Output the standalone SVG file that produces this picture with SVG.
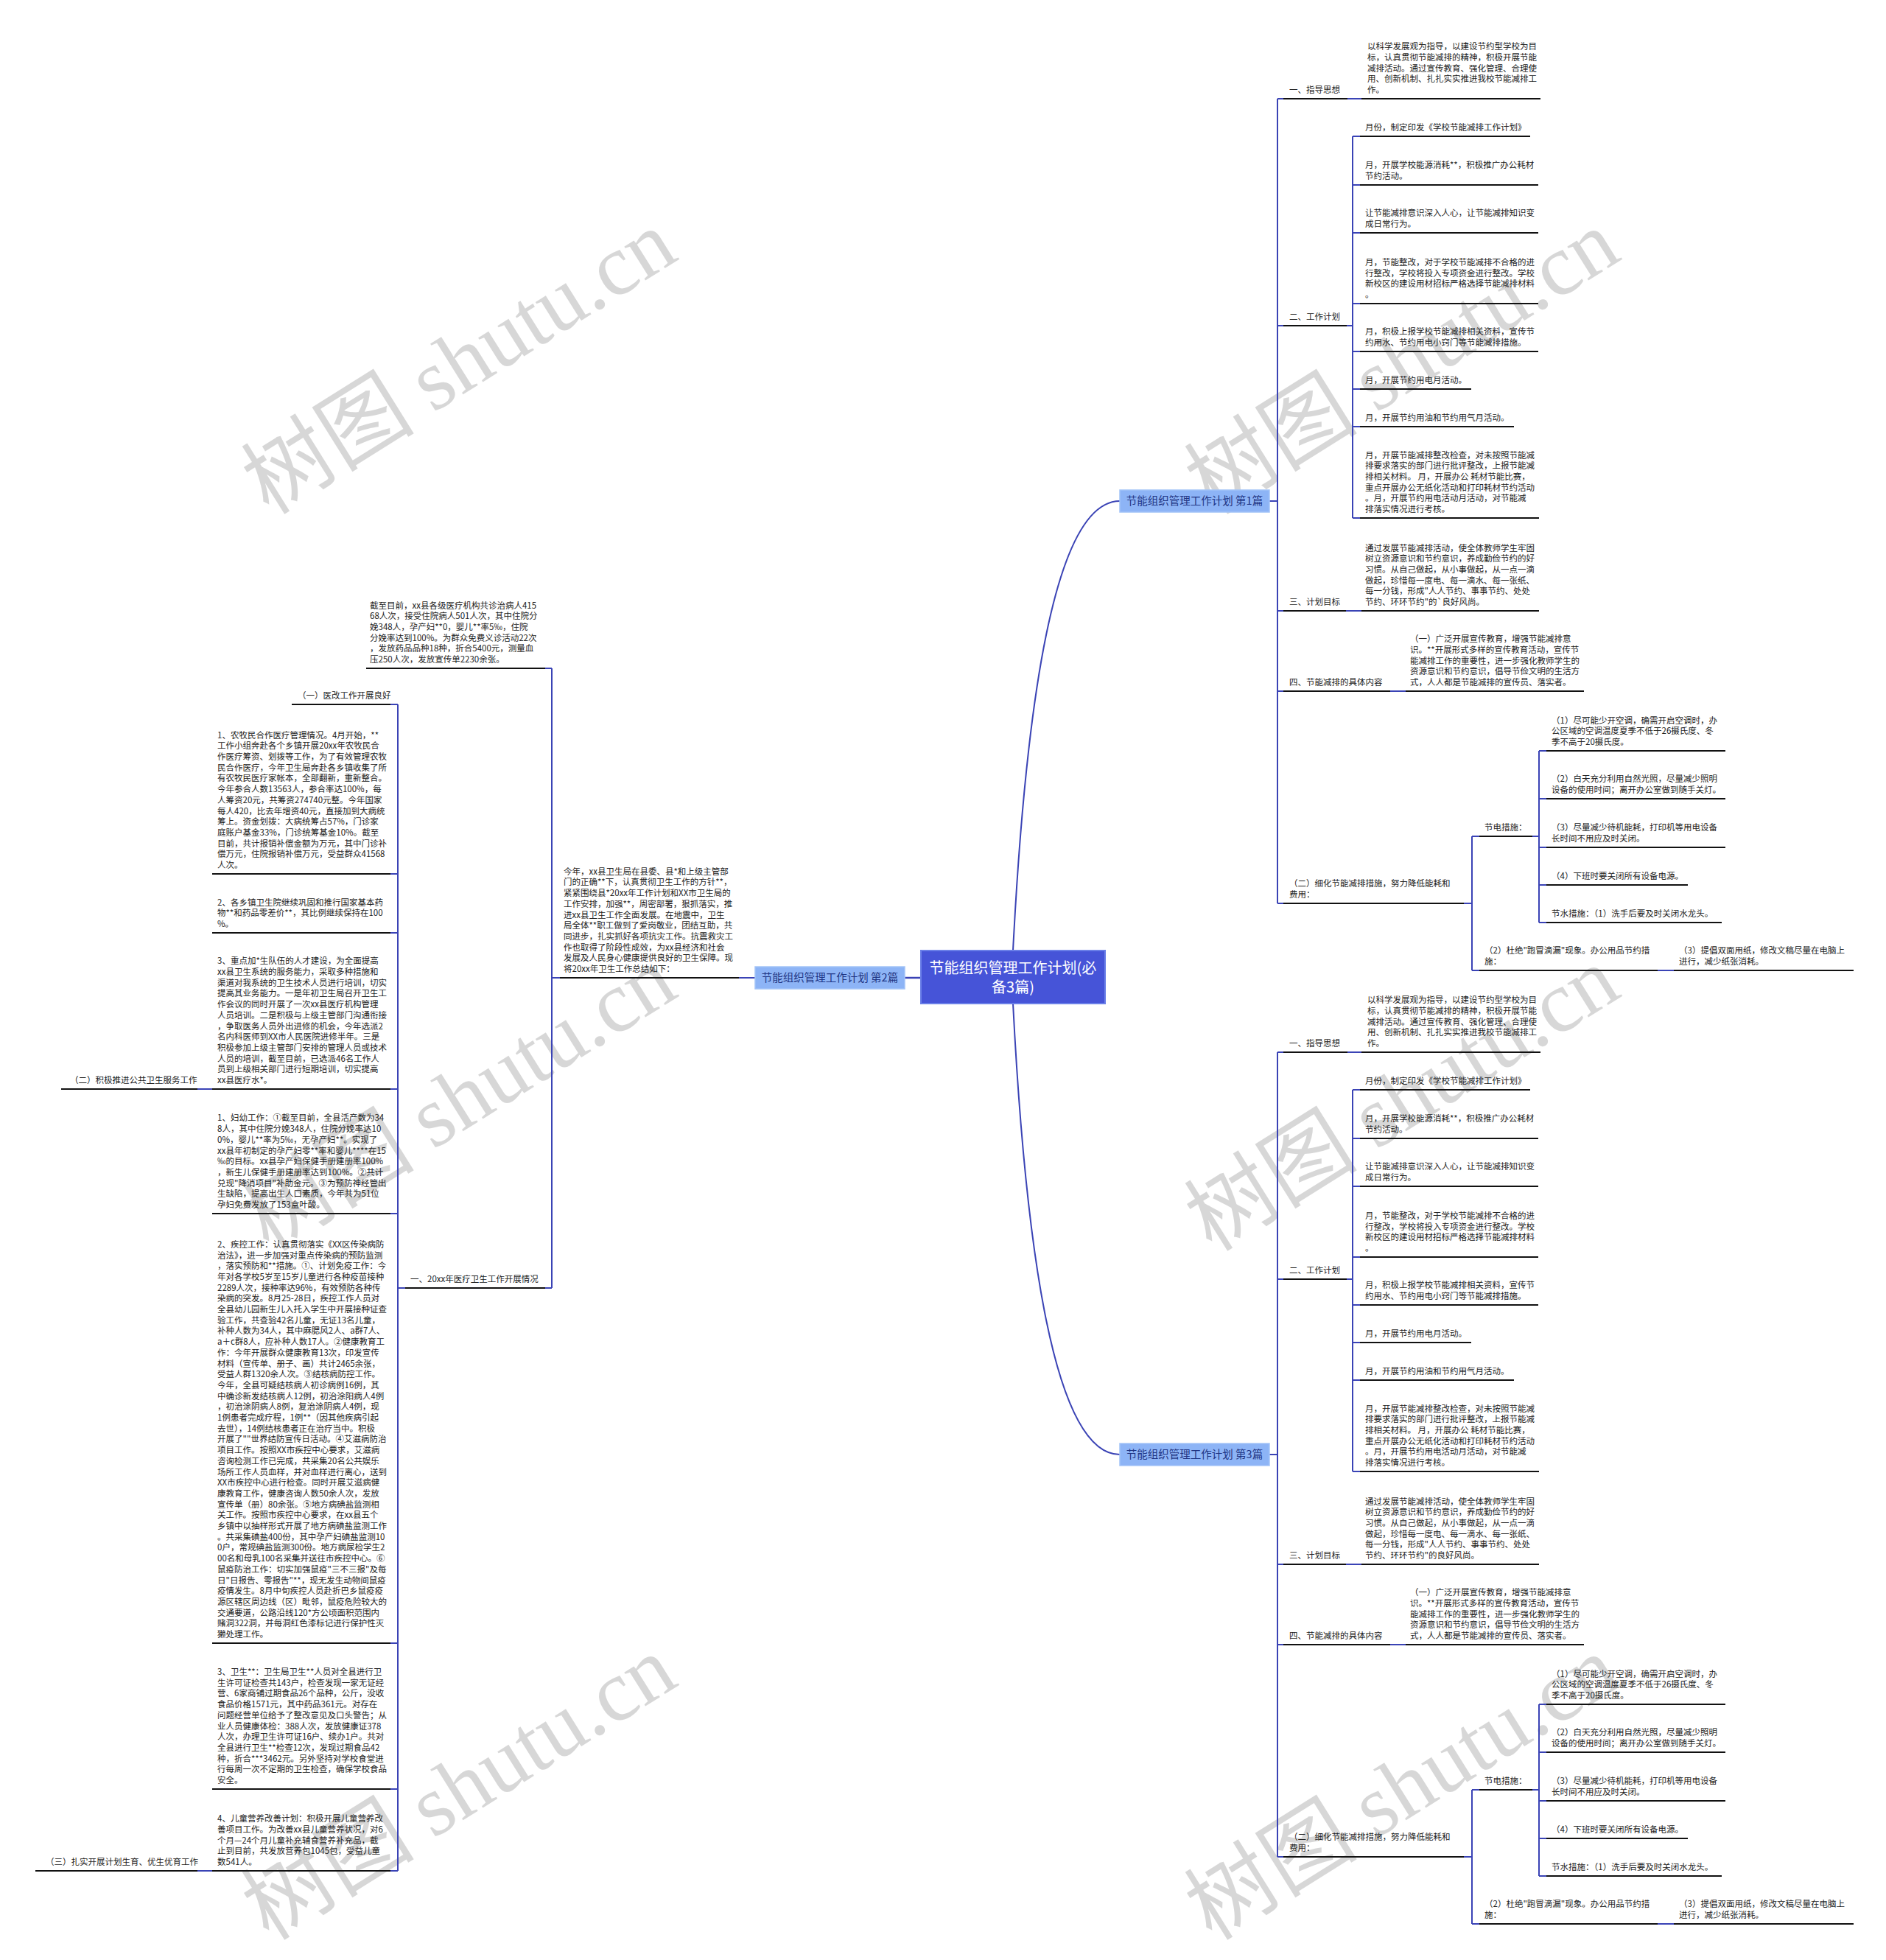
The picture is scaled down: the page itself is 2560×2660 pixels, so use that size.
<svg xmlns="http://www.w3.org/2000/svg" width="2560" height="2660" viewBox="0 0 2560 2660">
<style>
.t{font-family:"Noto Sans CJK SC","Noto Sans",sans-serif;font-size:11.5px;fill:#222}
.ul{stroke:#111;stroke-width:2;fill:none}
.cn{stroke:#3a43b5;stroke-width:2;fill:none}
.br rect{fill:#8db4f6;stroke:#a3c3f8;stroke-width:1.5}
.br text{font-family:"Noto Sans CJK SC","Noto Sans",sans-serif;font-size:14.5px;fill:#1f3483;text-anchor:middle}
.ctr rect{fill:#4654d8;stroke:#6a7fe8;stroke-width:2}
.ctr text{font-family:"Noto Sans CJK SC","Noto Sans",sans-serif;font-size:20px;fill:#fff;text-anchor:middle}
.wm{font-size:118px;fill:#999;opacity:0.38}
.wm .c{font-family:"Noto Sans CJK SC",sans-serif}
.wm .s{font-family:"Liberation Serif",serif}
</style>
<rect width="2560" height="2660" fill="#fff"/>
<g id="watermarks">
<text class="wm" transform="translate(365,700) rotate(-32)"><tspan class="c">树图 </tspan><tspan class="s">shutu.cn</tspan></text>
<text class="wm" transform="translate(1645,700) rotate(-32)"><tspan class="c">树图 </tspan><tspan class="s">shutu.cn</tspan></text>
<text class="wm" transform="translate(365,1700) rotate(-32)"><tspan class="c">树图 </tspan><tspan class="s">shutu.cn</tspan></text>
<text class="wm" transform="translate(1645,1700) rotate(-32)"><tspan class="c">树图 </tspan><tspan class="s">shutu.cn</tspan></text>
<text class="wm" transform="translate(365,2635) rotate(-32)"><tspan class="c">树图 </tspan><tspan class="s">shutu.cn</tspan></text>
<text class="wm" transform="translate(1645,2635) rotate(-32)"><tspan class="c">树图 </tspan><tspan class="s">shutu.cn</tspan></text>
</g>
<g id="connectors">
<path class="cn" d="M1375,1290 C1392,960 1430,680 1520,680"/>
<path class="cn" d="M1375,1362 C1392,1692 1430,1974 1520,1974"/>
<path class="cn" style="stroke-width:2.5" d="M1250,1327 H1228"/>
<g id="b1-conn">
<path class="cn" d="M1723,680 H1734 M1734,134 V1226 M1734,134 H1742 M1734,442 H1742 M1734,829 H1742 M1734,938 H1742 M1734,1226 H1742 M1829,134 H1848 M1828,442 H1836 M1836,185 V703 M1836,185 H1846 M1836,251 H1846 M1836,316 H1846 M1836,412 H1846 M1836,477 H1846 M1836,528 H1846 M1836,579 H1846 M1836,703 H1846 M1827,829 H1848 M1887,938 H1908 M1987,1226 H1998 M1998,1135 V1317 M1998,1135 H2008 M1998,1317 H2008 M2080,1135 H2089 M2089,1019 V1252 M2089,1019 H2099 M2089,1084 H2099 M2089,1150 H2099 M2089,1201 H2099 M2089,1252 H2099 M2250,1317 H2272"/>
</g>
<g id="b3-conn" transform="translate(0,1294)">
<path class="cn" d="M1723,680 H1734 M1734,134 V1226 M1734,134 H1742 M1734,442 H1742 M1734,829 H1742 M1734,938 H1742 M1734,1226 H1742 M1829,134 H1848 M1828,442 H1836 M1836,185 V703 M1836,185 H1846 M1836,251 H1846 M1836,316 H1846 M1836,412 H1846 M1836,477 H1846 M1836,528 H1846 M1836,579 H1846 M1836,703 H1846 M1827,829 H1848 M1887,938 H1908 M1987,1226 H1998 M1998,1135 V1317 M1998,1135 H2008 M1998,1317 H2008 M2080,1135 H2089 M2089,1019 V1252 M2089,1019 H2099 M2089,1084 H2099 M2089,1150 H2099 M2089,1201 H2099 M2089,1252 H2099 M2250,1317 H2272"/>
</g>
<g id="b2-conn">
<path class="cn" d="M1025,1327 H1003 M749,1327 H760 M749,907 V1748 M740,907 H749 M740,1748 H749 M540,1748 H550 M540,956 V2539 M530,956 H540 M530,1186 H540 M530,1266 H540 M530,1478 H540 M530,1647 H540 M530,2230 H540 M530,2428 H540 M530,2539 H540 M268,1478 H288 M268,2539 H288"/>
</g>
</g>
<g id="nodes">
<g id="root" class="ctr">
<rect x="1250" y="1290" width="250" height="72"/>
<text x="1375" y="1321">节能组织管理工作计划(必</text>
<text x="1375" y="1347">备3篇)</text>
</g>

<g id="b2" class="br"><rect x="1025" y="1312" width="203" height="30"/><text x="1126.5" y="1332">节能组织管理工作计划 第2篇</text></g>
<g id="b2-desc">
<path class="ul" d="M760,1327 H1003"/>
<text class="t" x="765" y="1186.7"><tspan x="765">今年，xx县卫生局在县委、县*和上级主管部</tspan><tspan x="765" dy="14.7">门的正确**下，认真贯彻卫生工作的方针**，</tspan><tspan x="765" dy="14.7">紧紧围绕县*20xx年工作计划和XX市卫生局的</tspan><tspan x="765" dy="14.7">工作安排，加强**，周密部署，狠抓落实，推</tspan><tspan x="765" dy="14.7">进xx县卫生工作全面发展。在地震中，卫生</tspan><tspan x="765" dy="14.7">局全体**职工做到了爱岗敬业，团结互助，共</tspan><tspan x="765" dy="14.7">同进步，扎实抓好各项抗灾工作。抗震救灾工</tspan><tspan x="765" dy="14.7">作也取得了阶段性成效，为xx县经济和社会</tspan><tspan x="765" dy="14.7">发展及人民身心健康提供良好的卫生保障。现</tspan><tspan x="765" dy="14.7">将20xx年卫生工作总结如下：</tspan></text>
</g>
<g id="b2-jiezhi">
<path class="ul" d="M497,907 H740"/>
<text class="t" x="502" y="825.5"><tspan x="502">截至目前，xx县各级医疗机构共诊治病人415</tspan><tspan x="502" dy="14.7">68人次，接受住院病人501人次，其中住院分</tspan><tspan x="502" dy="14.7">娩348人，孕产妇**0，婴儿**率5‰，住院</tspan><tspan x="502" dy="14.7">分娩率达到100%。为群众免费义诊活动22次</tspan><tspan x="502" dy="14.7">，发放药品品种18种，折合5400元，测量血</tspan><tspan x="502" dy="14.7">压250人次，发放宣传单2230余张。</tspan></text>
</g>
<g id="b2-yi">
<path class="ul" d="M550,1748 H740"/>
<text class="t" x="557" y="1740">一、20xx年医疗卫生工作开展情况</text>
</g>
<g id="b2-yigai">
<path class="ul" d="M396,956 H530"/>
<text class="t" x="404" y="948">（一）医改工作开展良好</text>
</g>
<g id="b2-item1">
<path class="ul" d="M288,1186 H530"/>
<text class="t" x="295" y="1001.6"><tspan x="295">1、农牧民合作医疗管理情况。4月开始，**</tspan><tspan x="295" dy="14.7">工作小组奔赴各个乡镇开展20xx年农牧民合</tspan><tspan x="295" dy="14.7">作医疗筹资、划拨等工作，为了有效管理农牧</tspan><tspan x="295" dy="14.7">民合作医疗，今年卫生局奔赴各乡镇收集了所</tspan><tspan x="295" dy="14.7">有农牧民医疗家帐本，全部翻新，重新整合。</tspan><tspan x="295" dy="14.7">今年参合人数13563人，参合率达100%，每</tspan><tspan x="295" dy="14.7">人筹资20元，共筹资274740元整。今年国家</tspan><tspan x="295" dy="14.7">每人420，比去年增资40元，直接加到大病统</tspan><tspan x="295" dy="14.7">筹上。资金划拨：大病统筹占57%，门诊家</tspan><tspan x="295" dy="14.7">庭账户基金33%，门诊统筹基金10%。截至</tspan><tspan x="295" dy="14.7">目前，共计报销补偿金额为万元，其中门诊补</tspan><tspan x="295" dy="14.7">偿万元，住院报销补偿万元，受益群众41568</tspan><tspan x="295" dy="14.7">人次。</tspan></text>
</g>
<g id="b2-item2">
<path class="ul" d="M288,1266 H530"/>
<text class="t" x="295" y="1228.6"><tspan x="295">2、各乡镇卫生院继续巩固和推行国家基本药</tspan><tspan x="295" dy="14.7">物**和药品零差价**，其比例继续保持在100</tspan><tspan x="295" dy="14.7">%。</tspan></text>
</g>
<g id="b2-item3">
<path class="ul" d="M288,1478 H530"/>
<text class="t" x="295" y="1308.3"><tspan x="295">3、重点加*生队伍的人才建设，为全面提高</tspan><tspan x="295" dy="14.7">xx县卫生系统的服务能力，采取多种措施和</tspan><tspan x="295" dy="14.7">渠道对我系统的卫生技术人员进行培训，切实</tspan><tspan x="295" dy="14.7">提高其业务能力。一是年初卫生局召开卫生工</tspan><tspan x="295" dy="14.7">作会议的同时开展了一次xx县医疗机构管理</tspan><tspan x="295" dy="14.7">人员培训。二是积极与上级主管部门沟通衔接</tspan><tspan x="295" dy="14.7">，争取医务人员外出进修的机会，今年选派2</tspan><tspan x="295" dy="14.7">名内科医师到XX市人民医院进修半年。三是</tspan><tspan x="295" dy="14.7">积极参加上级主管部门安排的管理人员或技术</tspan><tspan x="295" dy="14.7">人员的培训，截至目前，已选派46名工作人</tspan><tspan x="295" dy="14.7">员到上级相关部门进行短期培训，切实提高</tspan><tspan x="295" dy="14.7">xx县医疗水*。</tspan></text>
</g>
<g id="b2-er">
<path class="ul" d="M83,1478 H268"/>
<text class="t" x="95" y="1470">（二）积极推进公共卫生服务工作</text>
</g>
<g id="b2-fuyou">
<path class="ul" d="M288,1647 H530"/>
<text class="t" x="295" y="1521.4"><tspan x="295">1、妇幼工作：①截至目前，全县活产数为34</tspan><tspan x="295" dy="14.7">8人，其中住院分娩348人，住院分娩率达10</tspan><tspan x="295" dy="14.7">0%，婴儿**率为5‰，无孕产妇**。实现了</tspan><tspan x="295" dy="14.7">xx县年初制定的孕产妇零**率和婴儿****在15</tspan><tspan x="295" dy="14.7">‰的目标。xx县孕产妇保健手册建册率100%</tspan><tspan x="295" dy="14.7">，新生儿保健手册建册率达到100%。②共计</tspan><tspan x="295" dy="14.7">兑现"降消项目"补助金元。③为预防神经管出</tspan><tspan x="295" dy="14.7">生缺陷，提高出生人口素质，今年共为51位</tspan><tspan x="295" dy="14.7">孕妇免费发放了153盒叶酸。</tspan></text>
</g>
<g id="b2-jikong">
<path class="ul" d="M288,2230 H530"/>
<text class="t" x="295" y="1692.8"><tspan x="295">2、疾控工作：认真贯彻落实《XX区传染病防</tspan><tspan x="295" dy="14.7">治法》，进一步加强对重点传染病的预防监测</tspan><tspan x="295" dy="14.7">，落实预防和**措施。①、计划免疫工作：今</tspan><tspan x="295" dy="14.7">年对各学校5岁至15岁儿童进行各种疫苗接种</tspan><tspan x="295" dy="14.7">2289人次，接种率达96%，有效预防各种传</tspan><tspan x="295" dy="14.7">染病的突发。8月25-28日，疾控工作人员对</tspan><tspan x="295" dy="14.7">全县幼儿园新生儿入托入学生中开展接种证查</tspan><tspan x="295" dy="14.7">验工作，共查验42名儿童，无证13名儿童，</tspan><tspan x="295" dy="14.7">补种人数为34人，其中麻腮风2人、a群7人、</tspan><tspan x="295" dy="14.7">a＋c群8人，应补种人数17人。②健康教育工</tspan><tspan x="295" dy="14.7">作：今年开展群众健康教育13次，印发宣传</tspan><tspan x="295" dy="14.7">材料（宣传单、册子、画）共计2465余张，</tspan><tspan x="295" dy="14.7">受益人群1320余人次。③结核病防控工作。</tspan><tspan x="295" dy="14.7">今年，全县可疑结核病人初诊病例16例，其</tspan><tspan x="295" dy="14.7">中确诊新发结核病人12例，初治涂阳病人4例</tspan><tspan x="295" dy="14.7">，初治涂阴病人8例，复治涂阴病人4例，现</tspan><tspan x="295" dy="14.7">1例患者完成疗程，1例**（因其他疾病引起</tspan><tspan x="295" dy="14.7">去世），14例结核患者正在治疗当中。积极</tspan><tspan x="295" dy="14.7">开展了""世界结防宣传日活动。④艾滋病防治</tspan><tspan x="295" dy="14.7">项目工作。按照XX市疾控中心要求，艾滋病</tspan><tspan x="295" dy="14.7">咨询检测工作已完成，共采集20名公共娱乐</tspan><tspan x="295" dy="14.7">场所工作人员血样，并对血样进行离心，送到</tspan><tspan x="295" dy="14.7">XX市疾控中心进行检查。同时开展艾滋病健</tspan><tspan x="295" dy="14.7">康教育工作，健康咨询人数50余人次，发放</tspan><tspan x="295" dy="14.7">宣传单（册）80余张。⑤地方病碘盐监测相</tspan><tspan x="295" dy="14.7">关工作。按照市疾控中心要求，在xx县五个</tspan><tspan x="295" dy="14.7">乡镇中以抽样形式开展了地方病碘盐监测工作</tspan><tspan x="295" dy="14.7">。共采集碘盐400份，其中孕产妇碘盐监测10</tspan><tspan x="295" dy="14.7">0户，常规碘盐监测300份。地方病尿检学生2</tspan><tspan x="295" dy="14.7">00名和母乳100名采集并送往市疾控中心。⑥</tspan><tspan x="295" dy="14.7">鼠疫防治工作：切实加强鼠疫"三不三报"及每</tspan><tspan x="295" dy="14.7">日"日报告、零报告"**，现无发生动物间鼠疫</tspan><tspan x="295" dy="14.7">疫情发生。8月中旬疾控人员赴折巴乡鼠疫疫</tspan><tspan x="295" dy="14.7">源区辖区周边线（区）毗邻，鼠疫危险较大的</tspan><tspan x="295" dy="14.7">交通要道，公路沿线120*方公顷面积范围内</tspan><tspan x="295" dy="14.7">赌洞322洞，并每洞红色漆标记进行保护性灭</tspan><tspan x="295" dy="14.7">獭处理工作。</tspan></text>
</g>
<g id="b2-weisheng">
<path class="ul" d="M288,2428 H530"/>
<text class="t" x="295" y="2273"><tspan x="295">3、卫生**：卫生局卫生**人员对全县进行卫</tspan><tspan x="295" dy="14.7">生许可证检查共143户，检查发现一家无证经</tspan><tspan x="295" dy="14.7">营、6家商铺过期食品26个品种，公斤，没收</tspan><tspan x="295" dy="14.7">食品价格1571元，其中药品361元。对存在</tspan><tspan x="295" dy="14.7">问题经营单位给予了整改意见及口头警告；从</tspan><tspan x="295" dy="14.7">业人员健康体检：388人次，发放健康证378</tspan><tspan x="295" dy="14.7">人次，办理卫生许可证16户、续办1户。共对</tspan><tspan x="295" dy="14.7">全县进行卫生**检查12次，发现过期食品42</tspan><tspan x="295" dy="14.7">种，折合***3462元。另外坚持对学校食堂进</tspan><tspan x="295" dy="14.7">行每周一次不定期的卫生检查，确保学校食品</tspan><tspan x="295" dy="14.7">安全。</tspan></text>
</g>
<g id="b2-ertong">
<path class="ul" d="M288,2539 H530"/>
<text class="t" x="295" y="2472.2"><tspan x="295">4、儿童营养改善计划：积极开展儿童营养改</tspan><tspan x="295" dy="14.7">善项目工作。为改善xx县儿童营养状况，对6</tspan><tspan x="295" dy="14.7">个月—24个月儿童补充辅食营养补充品，截</tspan><tspan x="295" dy="14.7">止到目前，共发放营养包1045包，受益儿童</tspan><tspan x="295" dy="14.7">数541人。</tspan></text>
</g>
<g id="b2-san">
<path class="ul" d="M48,2539 H268"/>
<text class="t" x="62" y="2531">（三）扎实开展计划生育、优生优育工作</text>
</g>

<g id="branch1">
<g id="b1" class="br"><rect x="1520" y="665" width="203" height="30"/><text x="1621.5" y="685">节能组织管理工作计划 第1篇</text></g>
<g id="b1-l1"><path class="ul" d="M1742,134 H1829"/><text class="t" x="1750" y="126">一、指导思想</text></g>
<g id="b1-l1a"><path class="ul" d="M1848,134 H2091"/><text class="t" x="1856" y="67.2"><tspan x="1856">以科学发展观为指导，以建设节约型学校为目</tspan><tspan x="1856" dy="14.7">标，认真贯彻节能减排的精神，积极开展节能</tspan><tspan x="1856" dy="14.7">减排活动。通过宣传教育、强化管理、合理使</tspan><tspan x="1856" dy="14.7">用、创新机制、扎扎实实推进我校节能减排工</tspan><tspan x="1856" dy="14.7">作。</tspan></text></g>
<g id="b1-l2"><path class="ul" d="M1742,442 H1828"/><text class="t" x="1750" y="434">二、工作计划</text></g>
<g id="b1-l2a"><path class="ul" d="M1846,185 H2077"/><text class="t" x="1853" y="177">月份，制定印发《学校节能减排工作计划》</text></g>
<g id="b1-l2b"><path class="ul" d="M1846,251 H2088"/><text class="t" x="1853" y="228.3"><tspan x="1853">月，开展学校能源消耗**，积极推广办公耗材</tspan><tspan x="1853" dy="14.7">节约活动。</tspan></text></g>
<g id="b1-l2c"><path class="ul" d="M1846,316 H2088"/><text class="t" x="1853" y="293.3"><tspan x="1853">让节能减排意识深入人心，让节能减排知识变</tspan><tspan x="1853" dy="14.7">成日常行为。</tspan></text></g>
<g id="b1-l2d"><path class="ul" d="M1846,412 H2088"/><text class="t" x="1853" y="359.9"><tspan x="1853">月，节能整改，对于学校节能减排不合格的进</tspan><tspan x="1853" dy="14.7">行整改，学校将投入专项资金进行整改。学校</tspan><tspan x="1853" dy="14.7">新校区的建设用材招标严格选择节能减排材料</tspan><tspan x="1853" dy="14.7">。</tspan></text></g>
<g id="b1-l2e"><path class="ul" d="M1846,477 H2088"/><text class="t" x="1853" y="454.3"><tspan x="1853">月，积极上报学校节能减排相关资料，宣传节</tspan><tspan x="1853" dy="14.7">约用水、节约用电小窍门等节能减排措施。</tspan></text></g>
<g id="b1-l2f"><path class="ul" d="M1846,528 H1997"/><text class="t" x="1853" y="520">月，开展节约用电月活动。</text></g>
<g id="b1-l2g"><path class="ul" d="M1846,579 H2055"/><text class="t" x="1853" y="571">月，开展节约用油和节约用气月活动。</text></g>
<g id="b1-l2h"><path class="ul" d="M1846,703 H2089"/><text class="t" x="1853" y="621.5"><tspan x="1853">月，开展节能减排整改检查，对未按照节能减</tspan><tspan x="1853" dy="14.7">排要求落实的部门进行批评整改，上报节能减</tspan><tspan x="1853" dy="14.7">排相关材料。 月，开展办公 耗材节能比赛，</tspan><tspan x="1853" dy="14.7">重点开展办公无纸化活动和打印耗材节约活动</tspan><tspan x="1853" dy="14.7">。月，开展节约用电活动月活动，对节能减</tspan><tspan x="1853" dy="14.7">排落实情况进行考核。</tspan></text></g>
<g id="b1-l3"><path class="ul" d="M1742,829 H1827"/><text class="t" x="1750" y="821">三、计划目标</text></g>
<g id="b1-l3a"><path class="ul" d="M1848,829 H2089"/><text class="t" x="1853" y="747.5"><tspan x="1853">通过发展节能减排活动，使全体教师学生牢固</tspan><tspan x="1853" dy="14.7">树立资源意识和节约意识，养成勤俭节约的好</tspan><tspan x="1853" dy="14.7">习惯。从自己做起，从小事做起，从一点一滴</tspan><tspan x="1853" dy="14.7">做起，珍惜每一度电、每一滴水、每一张纸、</tspan><tspan x="1853" dy="14.7">每一分钱，形成"人人节约、事事节约、处处</tspan><tspan x="1853" dy="14.7">节约、环环节约"的`良好风尚。</tspan></text></g>
<g id="b1-l4"><path class="ul" d="M1742,938 H1887"/><text class="t" x="1750" y="930">四、节能减排的具体内容</text></g>
<g id="b1-l4a"><path class="ul" d="M1908,938 H2150"/><text class="t" x="1914" y="871.2"><tspan x="1914">（一）广泛开展宣传教育，增强节能减排意</tspan><tspan x="1914" dy="14.7">识。**开展形式多样的宣传教育活动，宣传节</tspan><tspan x="1914" dy="14.7">能减排工作的重要性，进一步强化教师学生的</tspan><tspan x="1914" dy="14.7">资源意识和节约意识，倡导节俭文明的生活方</tspan><tspan x="1914" dy="14.7">式，人人都是节能减排的宣传员、落实者。</tspan></text></g>
<g id="b1-l5"><path class="ul" d="M1742,1226 H1987"/><text class="t" x="1750" y="1203.3"><tspan x="1750">（二）细化节能减排措施，努力降低能耗和</tspan><tspan x="1750" dy="14.7">费用：</tspan></text></g>
<g id="b1-jd"><path class="ul" d="M2008,1135 H2080"/><text class="t" x="2015" y="1127">节电措施：</text></g>
<g id="b1-jd1"><path class="ul" d="M2099,1019 H2342"/><text class="t" x="2106" y="981.6"><tspan x="2106">（1）尽可能少开空调，确需开启空调时，办</tspan><tspan x="2106" dy="14.7">公区域的空调温度夏季不低于26摄氏度、冬</tspan><tspan x="2106" dy="14.7">季不高于20摄氏度。</tspan></text></g>
<g id="b1-jd2"><path class="ul" d="M2099,1084 H2342"/><text class="t" x="2106" y="1061.3"><tspan x="2106">（2）白天充分利用自然光照，尽量减少照明</tspan><tspan x="2106" dy="14.7">设备的使用时间；离开办公室做到随手关灯。</tspan></text></g>
<g id="b1-jd3"><path class="ul" d="M2099,1150 H2342"/><text class="t" x="2106" y="1127.3"><tspan x="2106">（3）尽量减少待机能耗，打印机等用电设备</tspan><tspan x="2106" dy="14.7">长时间不用应及时关闭。</tspan></text></g>
<g id="b1-jd4"><path class="ul" d="M2099,1201 H2291"/><text class="t" x="2106" y="1193">（4）下班时要关闭所有设备电源。</text></g>
<g id="b1-js"><path class="ul" d="M2099,1252 H2337"/><text class="t" x="2106" y="1244">节水措施：（1）洗手后要及时关闭水龙头。</text></g>
<g id="b1-pm"><path class="ul" d="M2008,1317 H2250"/><text class="t" x="2015" y="1294.3"><tspan x="2015">（2）杜绝"跑冒滴漏"现象。办公用品节约措</tspan><tspan x="2015" dy="14.7">施：</tspan></text></g>
<g id="b1-sm"><path class="ul" d="M2272,1317 H2516"/><text class="t" x="2279" y="1294.3"><tspan x="2279">（3）提倡双面用纸，修改文稿尽量在电脑上</tspan><tspan x="2279" dy="14.7">进行，减少纸张消耗。</tspan></text></g>
</g>

<g id="branch3" transform="translate(0,1294)">
<g id="b3" class="br"><rect x="1520" y="665" width="203" height="30"/><text x="1621.5" y="685">节能组织管理工作计划 第3篇</text></g>
<g id="b3-l1"><path class="ul" d="M1742,134 H1829"/><text class="t" x="1750" y="126">一、指导思想</text></g>
<g id="b3-l1a"><path class="ul" d="M1848,134 H2091"/><text class="t" x="1856" y="67.2"><tspan x="1856">以科学发展观为指导，以建设节约型学校为目</tspan><tspan x="1856" dy="14.7">标，认真贯彻节能减排的精神，积极开展节能</tspan><tspan x="1856" dy="14.7">减排活动。通过宣传教育、强化管理、合理使</tspan><tspan x="1856" dy="14.7">用、创新机制、扎扎实实推进我校节能减排工</tspan><tspan x="1856" dy="14.7">作。</tspan></text></g>
<g id="b3-l2"><path class="ul" d="M1742,442 H1828"/><text class="t" x="1750" y="434">二、工作计划</text></g>
<g id="b3-l2a"><path class="ul" d="M1846,185 H2077"/><text class="t" x="1853" y="177">月份，制定印发《学校节能减排工作计划》</text></g>
<g id="b3-l2b"><path class="ul" d="M1846,251 H2088"/><text class="t" x="1853" y="228.3"><tspan x="1853">月，开展学校能源消耗**，积极推广办公耗材</tspan><tspan x="1853" dy="14.7">节约活动。</tspan></text></g>
<g id="b3-l2c"><path class="ul" d="M1846,316 H2088"/><text class="t" x="1853" y="293.3"><tspan x="1853">让节能减排意识深入人心，让节能减排知识变</tspan><tspan x="1853" dy="14.7">成日常行为。</tspan></text></g>
<g id="b3-l2d"><path class="ul" d="M1846,412 H2088"/><text class="t" x="1853" y="359.9"><tspan x="1853">月，节能整改，对于学校节能减排不合格的进</tspan><tspan x="1853" dy="14.7">行整改，学校将投入专项资金进行整改。学校</tspan><tspan x="1853" dy="14.7">新校区的建设用材招标严格选择节能减排材料</tspan><tspan x="1853" dy="14.7">。</tspan></text></g>
<g id="b3-l2e"><path class="ul" d="M1846,477 H2088"/><text class="t" x="1853" y="454.3"><tspan x="1853">月，积极上报学校节能减排相关资料，宣传节</tspan><tspan x="1853" dy="14.7">约用水、节约用电小窍门等节能减排措施。</tspan></text></g>
<g id="b3-l2f"><path class="ul" d="M1846,528 H1997"/><text class="t" x="1853" y="520">月，开展节约用电月活动。</text></g>
<g id="b3-l2g"><path class="ul" d="M1846,579 H2055"/><text class="t" x="1853" y="571">月，开展节约用油和节约用气月活动。</text></g>
<g id="b3-l2h"><path class="ul" d="M1846,703 H2089"/><text class="t" x="1853" y="621.5"><tspan x="1853">月，开展节能减排整改检查，对未按照节能减</tspan><tspan x="1853" dy="14.7">排要求落实的部门进行批评整改，上报节能减</tspan><tspan x="1853" dy="14.7">排相关材料。 月，开展办公 耗材节能比赛，</tspan><tspan x="1853" dy="14.7">重点开展办公无纸化活动和打印耗材节约活动</tspan><tspan x="1853" dy="14.7">。月，开展节约用电活动月活动，对节能减</tspan><tspan x="1853" dy="14.7">排落实情况进行考核。</tspan></text></g>
<g id="b3-l3"><path class="ul" d="M1742,829 H1827"/><text class="t" x="1750" y="821">三、计划目标</text></g>
<g id="b3-l3a"><path class="ul" d="M1848,829 H2089"/><text class="t" x="1853" y="747.5"><tspan x="1853">通过发展节能减排活动，使全体教师学生牢固</tspan><tspan x="1853" dy="14.7">树立资源意识和节约意识，养成勤俭节约的好</tspan><tspan x="1853" dy="14.7">习惯。从自己做起，从小事做起，从一点一滴</tspan><tspan x="1853" dy="14.7">做起，珍惜每一度电、每一滴水、每一张纸、</tspan><tspan x="1853" dy="14.7">每一分钱，形成"人人节约、事事节约、处处</tspan><tspan x="1853" dy="14.7">节约、环环节约"的良好风尚。</tspan></text></g>
<g id="b3-l4"><path class="ul" d="M1742,938 H1887"/><text class="t" x="1750" y="930">四、节能减排的具体内容</text></g>
<g id="b3-l4a"><path class="ul" d="M1908,938 H2150"/><text class="t" x="1914" y="871.2"><tspan x="1914">（一）广泛开展宣传教育，增强节能减排意</tspan><tspan x="1914" dy="14.7">识。**开展形式多样的宣传教育活动，宣传节</tspan><tspan x="1914" dy="14.7">能减排工作的重要性，进一步强化教师学生的</tspan><tspan x="1914" dy="14.7">资源意识和节约意识，倡导节俭文明的生活方</tspan><tspan x="1914" dy="14.7">式，人人都是节能减排的宣传员、落实者。</tspan></text></g>
<g id="b3-l5"><path class="ul" d="M1742,1226 H1987"/><text class="t" x="1750" y="1203.3"><tspan x="1750">（二）细化节能减排措施，努力降低能耗和</tspan><tspan x="1750" dy="14.7">费用：</tspan></text></g>
<g id="b3-jd"><path class="ul" d="M2008,1135 H2080"/><text class="t" x="2015" y="1127">节电措施：</text></g>
<g id="b3-jd1"><path class="ul" d="M2099,1019 H2342"/><text class="t" x="2106" y="981.6"><tspan x="2106">（1）尽可能少开空调，确需开启空调时，办</tspan><tspan x="2106" dy="14.7">公区域的空调温度夏季不低于26摄氏度、冬</tspan><tspan x="2106" dy="14.7">季不高于20摄氏度。</tspan></text></g>
<g id="b3-jd2"><path class="ul" d="M2099,1084 H2342"/><text class="t" x="2106" y="1061.3"><tspan x="2106">（2）白天充分利用自然光照，尽量减少照明</tspan><tspan x="2106" dy="14.7">设备的使用时间；离开办公室做到随手关灯。</tspan></text></g>
<g id="b3-jd3"><path class="ul" d="M2099,1150 H2342"/><text class="t" x="2106" y="1127.3"><tspan x="2106">（3）尽量减少待机能耗，打印机等用电设备</tspan><tspan x="2106" dy="14.7">长时间不用应及时关闭。</tspan></text></g>
<g id="b3-jd4"><path class="ul" d="M2099,1201 H2291"/><text class="t" x="2106" y="1193">（4）下班时要关闭所有设备电源。</text></g>
<g id="b3-js"><path class="ul" d="M2099,1252 H2337"/><text class="t" x="2106" y="1244">节水措施：（1）洗手后要及时关闭水龙头。</text></g>
<g id="b3-pm"><path class="ul" d="M2008,1317 H2250"/><text class="t" x="2015" y="1294.3"><tspan x="2015">（2）杜绝"跑冒滴漏"现象。办公用品节约措</tspan><tspan x="2015" dy="14.7">施：</tspan></text></g>
<g id="b3-sm"><path class="ul" d="M2272,1317 H2516"/><text class="t" x="2279" y="1294.3"><tspan x="2279">（3）提倡双面用纸，修改文稿尽量在电脑上</tspan><tspan x="2279" dy="14.7">进行，减少纸张消耗。</tspan></text></g>
</g>
</g>
</svg>
